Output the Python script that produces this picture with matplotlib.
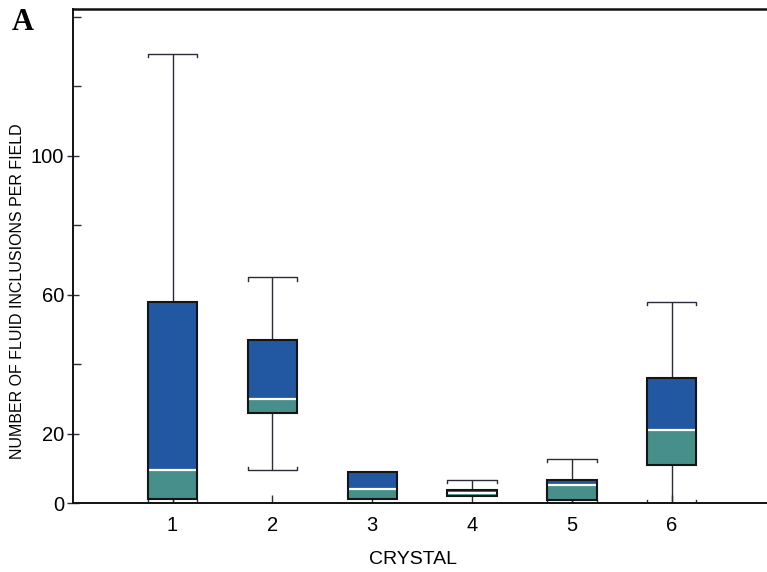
import matplotlib
matplotlib.use("Agg")
import matplotlib.pyplot as plt
from matplotlib.ticker import FixedLocator

# ---- data ----
crystals = [1, 2, 3, 4, 5, 6]
whis_lo = [0.0, 9.6, 1.15, 2.0, 0.0, 0.0]
q1 = [1.15, 25.9, 1.15, 2.0, 1.0, 10.9]
median = [9.6, 30.0, 4.0, 3.0, 5.4, 21.1]
q3 = [58.0, 47.0, 8.9, 3.9, 6.8, 36.0]
whis_hi = [129.2, 65.0, 8.9, 6.8, 12.8, 58.0]
ytick_labeled = [0, 20, 60, 100]
ytick_unlabeled = [40, 80, 120, 140]

BLUE = "#2257a2"
TEAL = "#468f8a"
LINE = "#2b2b3a"

plt.rcParams["font.family"] = ["Liberation Sans", "DejaVu Sans"]

fig = plt.figure(figsize=(7.67, 5.72), dpi=100)
ax = fig.add_axes([72.7 / 767, 1 - 503.3 / 572, 1 - 72.7 / 767, (503.3 - 9) / 572])

width = 0.495
cap_d = 0.9  # bracket tick length in data units

for x, lo, a, m, b, hi in zip(crystals, whis_lo, q1, median, q3, whis_hi):
    # whiskers
    if hi > b:
        ax.vlines(x, b, hi, color=LINE, lw=1.0, zorder=1)
        ax.plot([x - width / 2, x - width / 2, x + width / 2, x + width / 2],
                [hi - cap_d, hi, hi, hi - cap_d], color=LINE, lw=1.0, zorder=1)
    if lo < a:
        ax.vlines(x, lo, a, color=LINE, lw=1.0, zorder=1)
        ax.plot([x - width / 2, x - width / 2, x + width / 2, x + width / 2],
                [lo + cap_d, lo, lo, lo + cap_d], color=LINE, lw=1.0, zorder=1)
    # box halves
    ax.bar(x, m - a, width=width, bottom=a, color=TEAL, edgecolor="none", zorder=2)
    ax.bar(x, b - m, width=width, bottom=m, color=BLUE, edgecolor="none", zorder=2)
    # outline
    ax.bar(x, b - a, width=width, bottom=a, fill=False, edgecolor="#151515", lw=1.5, zorder=4)
    # median
    ax.hlines(m, x - width / 2 + 0.01, x + width / 2 - 0.01, color="white", lw=1.6, zorder=3)

ax.set_xlim(0, (767 - 72.7) / 99.84)
ax.set_ylim(0, (503.3 - 9) / 3.475)

ax.spines["right"].set_visible(False)
for s in ["left", "bottom", "top"]:
    ax.spines[s].set_linewidth(1.4)
    ax.spines[s].set_color("#111111")
ax.spines["top"].set_linewidth(1.8)

ax.set_xticks(crystals)
ax.set_xticklabels([str(c) for c in crystals])
ax.tick_params(axis="x", direction="in", length=5.5, width=1.0, color=LINE,
               labelsize=14.5, pad=9, top=False)

ax.yaxis.set_major_locator(FixedLocator(ytick_labeled))
ax.yaxis.set_minor_locator(FixedLocator(ytick_unlabeled))
ax.set_yticklabels([str(v) for v in ytick_labeled])
ax.tick_params(axis="y", which="major", direction="inout", length=9, width=1.0,
               color=LINE, labelsize=14.5, pad=1.5)
ax.tick_params(axis="y", which="minor", direction="in", length=6, width=1.0, color=LINE)

fig.text(18 / 767, 1 - 291 / 572, "NUMBER OF FLUID INCLUSIONS PER FIELD",
         rotation=90, ha="center", va="center", fontsize=11.5)
fig.text(413 / 767, 1 - 559 / 572, "CRYSTAL", ha="center", va="center", fontsize=14)
fig.text(23 / 767, 1 - 23 / 572, "A", ha="center", va="center", fontsize=22,
         fontweight="bold", family=["Liberation Serif", "DejaVu Serif"])

fig.savefig("out.png", dpi=100)
